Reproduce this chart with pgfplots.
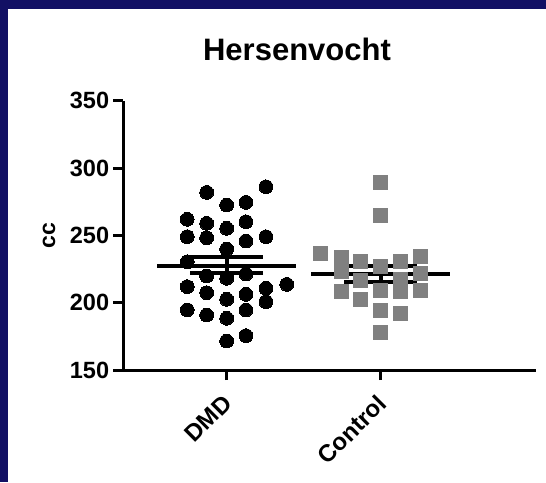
\documentclass[border=0pt]{standalone}
\usepackage{fontspec}
\setmainfont{Liberation Sans}
\usepackage{pgfplots}
\pgfplotsset{compat=1.18}
\definecolor{framecol}{RGB}{18,16,100}
\definecolor{sqgray}{RGB}{128,128,128}
\begin{document}
\begin{tikzpicture}
\useasboundingbox (0pt,0pt) rectangle (546pt,482pt);
\fill[white] (0pt,0pt) rectangle (546pt,482pt);
\fill[framecol] (0pt,473.3pt) rectangle (546pt,482pt);
\fill[framecol] (0pt,0pt) rectangle (8pt,482pt);
\node[font=\fontsize{31}{36}\selectfont\bfseries, anchor=base] at (297pt,421.3pt) {Hersenvocht};
\begin{axis}[
  at={(123.3pt,112pt)}, anchor=south west,
  scale only axis, width=412.7pt, height=269.3pt,
  xmin=-0.671, xmax=2.008, ymin=150, ymax=350,
  axis x line=bottom, axis y line=left,
  axis line style={-, line width=3pt, black},
  xtick={0,1}, xticklabels={DMD,Control},
  ytick={150,200,250,300,350},
  tick align=outside, major tick length=10pt,
  tick style={line width=3pt, black},
  /pgf/number format/assume math mode=true,
  tick label style={font=\fontsize{23.5}{26}\selectfont\bfseries},
  yticklabel style={inner sep=4pt},
  xticklabel style={xshift=-5pt, yshift=-10pt, rotate=45, anchor=north east, inner sep=2pt, font=\fontsize{24}{26}\selectfont\bfseries},
  ylabel={cc},
  every axis y label/.style={at={(rel axis cs:0,0.5)}, xshift=-74.3pt, rotate=90, anchor=center, font=\fontsize{23}{26}\selectfont\bfseries},
  clip=false,
]
\addplot[only marks, color=black, mark=*, mark size=6.9pt, mark options={fill=black, draw=black, line width=0pt}] coordinates {
(-0.13,281.9) (0.255,286.1) (0,272.5) (0.125,274.5) (-0.256,261.9) (-0.13,258.9)
(0,255.2) (0.125,260.1) (-0.256,249.0) (-0.13,248.2) (0.125,245.8) (0.255,249.0)
(0,239.8) (-0.256,230.4) (-0.13,219.8) (0,218.1) (0.125,221.3) (-0.256,211.9)
(-0.13,207.4) (0,202.5) (0.125,206.2) (0.255,210.7) (0.39,213.6) (0.255,200.7)
(-0.256,194.6) (-0.13,190.8) (0,188.4) (0.125,194.6) (0,171.5) (0.125,175.5)
};
\addplot[only marks, color=sqgray, mark=square*, mark size=7pt, mark options={fill=sqgray, draw=sqgray, line width=0pt}] coordinates {
(1,289.1) (1,264.6) (0.612,236.6) (0.744,233.7) (0.744,223.0) (0.744,208.1)
(0.87,230.4) (0.87,216.8) (0.87,202.0) (1,226.7) (1,209.4) (1,194.0) (1,177.7)
(1.127,230.4) (1.127,217.3) (1.127,208.1) (1.127,192.1) (1.257,234.1) (1.257,221.8) (1.257,208.9)
};
% mean lines
\addplot[black, line width=4pt] coordinates {(-0.45,227.6) (0.45,227.6)};
\addplot[black, line width=4pt] coordinates {(0.548,221.1) (1.452,221.1)};
% SEM error bars
\addplot[draw=none, mark=none, error bars/.cd, y dir=both, y explicit,
  error bar style={line width=4pt, black},
  error mark options={rotate=90, mark size=36.5pt, line width=4pt, black}]
  coordinates {(0,227.75) +- (0,5.95) (1,221.4) +- (0,5.8)};
\end{axis}
\end{tikzpicture}
\end{document}
